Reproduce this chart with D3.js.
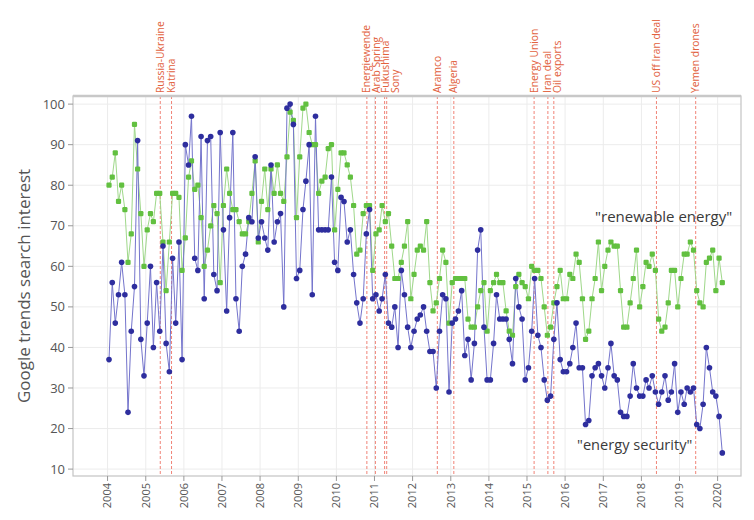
<!DOCTYPE html>
<html>
<head>
<meta charset="utf-8">
<script src="https://cdn.jsdelivr.net/npm/d3@7"></script>
<style>
  html, body { margin: 0; padding: 0; background: #fff; }
  svg { display: block; font-family: "Open Sans", "Noto Sans", sans-serif; }
</style>
</head>
<body>
<svg id="chart" width="754" height="520"></svg>
<script>
// Monthly Google Trends interest, Jan 2004 – Feb 2020
const firstMonth = new Date(2004, 0, 15);

const securityInterest = [
  37,56,46,53,61,53,24,44,55,91,42,33,   // 2004
  46,60,40,56,44,65,41,34,62,46,66,37,   // 2005
  90,85,97,62,59,92,52,91,92,58,54,93,   // 2006
  69,49,72,93,52,44,60,63,72,71,87,67,   // 2007
  71,67,64,85,66,71,73,50,99,100,95,57,  // 2008
  59,74,81,90,53,97,69,69,69,69,82,61,   // 2009
  59,77,76,66,69,58,51,46,52,68,74,52,   // 2010
  53,49,52,58,46,45,50,40,59,53,45,40,   // 2011
  44,47,48,50,44,39,39,30,44,53,52,29,   // 2012
  46,47,49,54,38,42,32,41,64,69,45,32,   // 2013
  32,41,53,47,47,47,42,36,57,50,47,32,   // 2014
  35,44,57,43,40,32,27,28,42,51,37,34,   // 2015
  34,36,40,46,35,35,21,22,33,35,36,33,   // 2016
  30,35,41,33,32,24,23,23,28,36,30,28,   // 2017
  28,32,30,33,29,26,29,33,27,29,36,24,   // 2018
  29,26,30,29,30,21,20,26,40,35,29,28,   // 2019
  23,14                                  // 2020
];

const renewableInterest = [
  80,82,88,76,80,74,61,68,95,84,73,60,   // 2004
  69,73,71,78,78,66,54,66,78,78,77,59,   // 2005
  67,82,86,79,80,72,60,64,70,75,73,56,   // 2006
  75,84,78,74,74,71,68,68,71,78,86,66,   // 2007
  76,84,74,84,78,85,78,76,87,98,96,72,   // 2008
  87,99,100,93,90,90,78,81,82,89,90,69,  // 2009
  79,88,88,85,82,75,63,64,73,75,75,59,   // 2010
  68,69,75,71,73,65,57,57,61,65,71,52,   // 2011
  58,64,65,64,71,56,49,51,57,64,61,46,   // 2012
  56,57,57,57,57,47,45,45,50,54,56,44,   // 2013
  54,56,58,56,56,49,44,43,55,58,56,55,   // 2014
  52,60,59,59,57,50,43,45,51,55,59,52,   // 2015
  52,58,57,63,61,52,42,44,52,57,66,54,   // 2016
  60,64,66,65,65,54,45,45,51,57,64,50,   // 2017
  55,61,60,63,59,47,44,45,51,59,59,50,   // 2018
  57,63,63,66,64,54,51,50,61,62,64,54,   // 2019
  62,56                                  // 2020
];

const eventNames = [
  "Russia-Ukraine", "Katrina", "Energiewende", "Arab Spring", "Fukushima", "Sony",
  "Aramco", "Algeria", "Energy Union", "Iran deal", "Oil exports",
  "US off Iran deal", "Yemen drones"
];
const eventDates = [
  "2005-05-20", "2005-09-05", "2010-10-20", "2011-01-10", "2011-04-08", "2011-04-28",
  "2012-08-25", "2013-01-30", "2015-03-10", "2015-07-20", "2015-09-15",
  "2018-05-25", "2019-06-05"
];

const yTicks = [10, 20, 30, 40, 50, 60, 70, 80, 90, 100];
const yTitle = "Google trends search interest";
const seriesLabels = ["\"renewable energy\"", "\"energy security\""];

// ---- layout ----
const W = 754, H = 520;
const plot = { left: 73, right: 741, top: 96, bottom: 476 };

const parse = d3.timeParse("%Y-%m-%d");
const months = securityInterest.map((_, i) => d3.timeMonth.offset(firstMonth, i));

const x = d3.scaleTime()
  .domain([new Date(2003, 1, 4), new Date(2020, 7, 12)])
  .range([plot.left, plot.right]);
const y = d3.scaleLinear()
  .domain([8.3, 102])
  .range([plot.bottom, plot.top]);

const svg = d3.select("#chart");

// grid
const years = d3.timeYear.range(new Date(2004, 0, 1), new Date(2020, 1, 1));
const grid = svg.append("g");
grid.selectAll("line.h").data(yTicks).join("line")
  .attr("x1", plot.left).attr("x2", plot.right)
  .attr("y1", d => y(d)).attr("y2", d => y(d))
  .attr("stroke", "#ececec").attr("stroke-width", 1);
grid.selectAll("line.v").data(years).join("line")
  .attr("x1", d => x(d)).attr("x2", d => x(d))
  .attr("y1", plot.top).attr("y2", plot.bottom)
  .attr("stroke", "#ececec").attr("stroke-width", 1);

// event markers: dashed verticals with labels nudged apart when crowded
const events = eventNames.map((name, i) => ({ name, date: parse(eventDates[i]) }))
  .sort((a, b) => a.date - b.date);
let lastLabelX = -Infinity;
events.forEach(e => {
  e.lx = Math.max(x(e.date), lastLabelX + 9.5);
  lastLabelX = e.lx;
});
const ev = svg.append("g");
ev.selectAll("line").data(events).join("line")
  .attr("x1", d => x(d.date)).attr("x2", d => x(d.date))
  .attr("y1", plot.top).attr("y2", plot.bottom)
  .attr("stroke", "#f08478").attr("stroke-width", 1)
  .attr("stroke-dasharray", "3,2");
ev.selectAll("text").data(events).join("text")
  .attr("transform", d => `translate(${d.lx},${plot.top - 3}) rotate(-90)`)
  .attr("dy", "0.35em")
  .attr("text-anchor", "start")
  .attr("font-size", 10.3)
  .attr("fill", "#e2623e")
  .text(d => d.name);

// frame
svg.append("rect")
  .attr("x", plot.left).attr("y", plot.top)
  .attr("width", plot.right - plot.left).attr("height", plot.bottom - plot.top)
  .attr("fill", "none").attr("stroke", "#c4c4c4").attr("stroke-width", 1.2);
svg.append("line")
  .attr("x1", plot.left).attr("x2", plot.right)
  .attr("y1", plot.top).attr("y2", plot.top)
  .attr("stroke", "#c8c8c8").attr("stroke-width", 2.5);

// axes
const yAxis = svg.append("g");
yAxis.selectAll("line").data(yTicks).join("line")
  .attr("x1", plot.left - 5).attr("x2", plot.left)
  .attr("y1", d => y(d)).attr("y2", d => y(d))
  .attr("stroke", "#999");
yAxis.selectAll("text").data(yTicks).join("text")
  .attr("x", plot.left - 8).attr("y", d => y(d))
  .attr("dy", "0.35em").attr("text-anchor", "end")
  .attr("font-size", 13).attr("fill", "#555")
  .text(d => d);

const xAxis = svg.append("g");
xAxis.selectAll("line").data(years).join("line")
  .attr("x1", d => x(d)).attr("x2", d => x(d))
  .attr("y1", plot.bottom).attr("y2", plot.bottom + 5)
  .attr("stroke", "#999");
xAxis.selectAll("text").data(years).join("text")
  .attr("transform", d => `translate(${x(d)},${plot.bottom + 7}) rotate(-90)`)
  .attr("dy", "0.35em").attr("text-anchor", "end")
  .attr("font-size", 11).attr("fill", "#555")
  .text(d => d3.timeFormat("%Y")(d));

svg.append("text")
  .attr("transform", `translate(24,${(plot.top + plot.bottom) / 2}) rotate(-90)`)
  .attr("text-anchor", "middle").attr("dy", "0.35em")
  .attr("font-size", 17).attr("fill", "#555")
  .text(yTitle);

// series
const line = d3.line().x(d => x(d.date)).y(d => y(d.v));
const greenData = renewableInterest.map((v, i) => ({ date: months[i], v }));
const blueData = securityInterest.map((v, i) => ({ date: months[i], v }));

svg.append("path").datum(greenData).attr("d", line)
  .attr("fill", "none").attr("stroke", "#9fd88a").attr("stroke-width", 1);
svg.append("path").datum(blueData).attr("d", line)
  .attr("fill", "none").attr("stroke", "#7474cc").attr("stroke-width", 1);

svg.append("g").selectAll("rect").data(greenData).join("rect")
  .attr("x", d => x(d.date) - 2.6).attr("y", d => y(d.v) - 2.6)
  .attr("width", 5.2).attr("height", 5.2).attr("rx", 1.2)
  .attr("fill", "#62c040");
svg.append("g").selectAll("circle").data(blueData).join("circle")
  .attr("cx", d => x(d.date)).attr("cy", d => y(d.v)).attr("r", 2.8)
  .attr("fill", "#2e2e9e");

// series labels
svg.append("text")
  .attr("x", x(new Date(2016, 9, 14))).attr("y", y(71))
  .attr("font-size", 15).attr("fill", "#3a3a3a")
  .text(seriesLabels[0]);
svg.append("text")
  .attr("x", x(new Date(2016, 3, 25))).attr("y", y(14.7))
  .attr("font-size", 14.6).attr("fill", "#3a3a3a")
  .text(seriesLabels[1]);
</script>
</body>
</html>
